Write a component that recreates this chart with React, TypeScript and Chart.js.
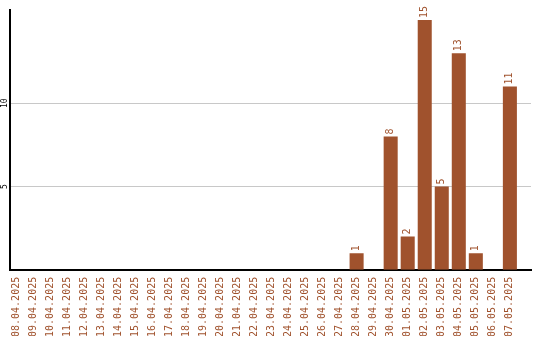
import React, { useEffect, useRef } from "react";
import { Chart, registerables } from "chart.js";

Chart.register(...registerables);

const categories = [
  "08.04.2025", "09.04.2025", "10.04.2025", "11.04.2025", "12.04.2025",
  "13.04.2025", "14.04.2025", "15.04.2025", "16.04.2025", "17.04.2025",
  "18.04.2025", "19.04.2025", "20.04.2025", "21.04.2025", "22.04.2025",
  "23.04.2025", "24.04.2025", "25.04.2025", "26.04.2025", "27.04.2025",
  "28.04.2025", "29.04.2025", "30.04.2025", "01.05.2025", "02.05.2025",
  "03.05.2025", "04.05.2025", "05.05.2025", "06.05.2025", "07.05.2025",
];
const values = [
  0, 0, 0, 0, 0, 0, 0, 0, 0, 0,
  0, 0, 0, 0, 0, 0, 0, 0, 0, 0,
  1, 0, 8, 2, 15, 5, 13, 1, 0, 11,
];
const yTicks = [5, 10];
const yMax = 15.6;
const xMin = -0.353;
const xMax = 30.24;

const BROWN = "#a0522d";
const MONO = "'DejaVu Sans Mono', monospace";

const overlay = {
  id: "overlay",
  afterDatasetsDraw(chart: any) {
    const ctx = chart.ctx;
    const meta = chart.getDatasetMeta(0);
    ctx.save();
    ctx.fillStyle = BROWN;
    ctx.font = `10px ${MONO}`;
    ctx.textAlign = "left";
    ctx.textBaseline = "middle";
    meta.data.forEach((bar: any, i: number) => {
      const v = values[i];
      if (!v) return;
      ctx.save();
      ctx.translate(bar.x, bar.y - 2);
      ctx.rotate(-Math.PI / 2);
      ctx.fillText(String(v), 0, 0);
      ctx.restore();
    });
    const y = chart.scales.y;
    ctx.fillStyle = "#000";
    ctx.font = `8px ${MONO}`;
    ctx.textAlign = "center";
    ctx.textBaseline = "middle";
    yTicks.forEach((t) => {
      ctx.save();
      ctx.translate(5, y.getPixelForValue(t));
      ctx.rotate(-Math.PI / 2);
      ctx.fillText(String(t), 0, 0);
      ctx.restore();
    });
    ctx.restore();
  },
};

export default function App() {
  const ref = useRef<HTMLCanvasElement>(null);
  useEffect(() => {
    document.body.style.margin = "0";
    const chart = new Chart(ref.current!, {
      type: "bar",
      data: {
        datasets: [
          {
            data: values.map((v, i) => ({ x: i, y: v })),
            backgroundColor: BROWN,
            barPercentage: 0.824,
            categoryPercentage: 1,
          },
        ],
      },
      options: {
        animation: false,
        responsive: false,
        maintainAspectRatio: false,
        layout: { padding: { left: 10, top: 10, right: 9, bottom: 4 } },
        plugins: { legend: { display: false }, tooltip: { enabled: false } },
        scales: {
          x: {
            type: "linear",
            offset: false,
            min: xMin,
            max: xMax,
            afterBuildTicks: (scale: any) => {
              scale.ticks = categories.map((_, i) => ({ value: i }));
            },
            grid: { display: false, offset: false },
            border: { color: "#000", width: 2 },
            ticks: {
              color: BROWN,
              font: { family: MONO, size: 10 },
              minRotation: 90,
              maxRotation: 90,
              autoSkip: false,
              padding: -1,
              callback: (v: any) => categories[Math.round(Number(v))] ?? "",
            },
          },
          y: {
            min: 0,
            max: yMax,
            afterBuildTicks: (scale: any) => {
              scale.ticks = yTicks.map((v) => ({ value: v }));
            },
            grid: { color: "#c8c8c8", drawTicks: false, lineWidth: 1 },
            border: { color: "#000", width: 2 },
            ticks: { display: false },
          },
        },
      },
      plugins: [overlay],
    });
    return () => chart.destroy();
  }, []);
  return (
    <div style={{ width: 540, height: 340 }}>
      <canvas ref={ref} width={540} height={340} style={{ display: "block" }} />
    </div>
  );
}
